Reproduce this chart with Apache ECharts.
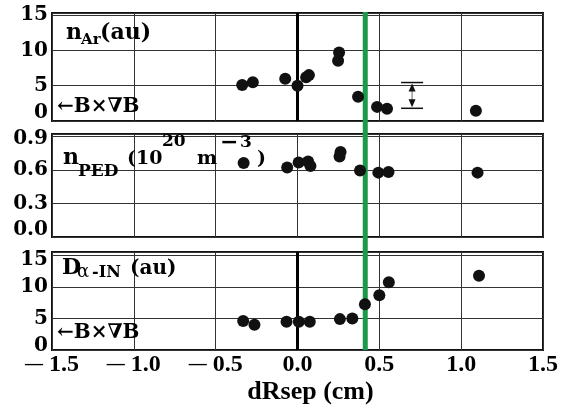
<!DOCTYPE html>
<html><head><meta charset="utf-8">
<script src="https://cdn.jsdelivr.net/npm/echarts@6/dist/echarts.min.js"></script>
<style>html,body{margin:0;padding:0;background:#fff}#c{width:567px;height:409px}</style>
</head><body><div id="c"></div>
<script>
// ---- data ----
const xTicks = [-1.5, -1.0, -0.5, 0.0, 0.5, 1.0, 1.5];
const xTickLabels = ['−1.5', '−1.0', '−0.5', '0.0', '0.5', '1.0', '1.5'];

const nArTicks = [0, 5, 10, 15];
const nArX = [-0.338, -0.273, -0.075, 0.0, 0.053, 0.07, 0.248, 0.254, 0.37, 0.486, 0.547, 1.09];
const nArY = [5.1, 5.5, 6.0, 5.0, 6.2, 6.5, 8.55, 9.7, 3.45, 2.0, 1.75, 1.45];

const nPedTicks = [0.0, 0.3, 0.6, 0.9];
const nPedX = [-0.329, -0.063, 0.007, 0.065, 0.079, 0.263, 0.257, 0.382, 0.494, 0.556, 1.10];
const nPedY = [0.66, 0.62, 0.665, 0.675, 0.635, 0.76, 0.72, 0.595, 0.575, 0.58, 0.575];

const dAlphaTicks = [0, 5, 10, 15];
const dAlphaX = [-0.332, -0.263, -0.067, 0.008, 0.075, 0.259, 0.335, 0.412, 0.5, 0.558, 1.109];
const dAlphaY = [4.6, 4.0, 4.5, 4.5, 4.5, 4.9, 5.0, 7.25, 8.7, 10.75, 11.8];

const separatrixX = [0.414];          // green vertical line
const errBarX = [0.70];               // representative error bar (panel 1)
const errBarLow = [1.8];
const errBarHigh = [5.45];

// ---- styles ----
const SERIF = 'Liberation Serif';
const DJ = 'DejaVu Serif';
const ink = '#111';

function yFmt(ticks, dec) {
  return function (v) {
    const i = ticks.findIndex(t => Math.abs(t - v) < 1e-6);
    if (i < 0) return '';
    const s = ticks[i].toFixed(dec);
    if (i === 0) return '{lo|' + s + '}';
    if (i === ticks.length - 1) return '{hi|' + s + '}';
    return '{n|' + s + '}';
  };
}
function yRich(lo, hi) {
  const base = { fontFamily: DJ, fontWeight: 'bold', fontSize: 20, color: '#000' };
  return {
    n: base,
    lo: Object.assign({}, base, { padding: [0, 0, 2 * lo, 0] }),
    hi: Object.assign({}, base, { padding: [2 * hi, 0, 0, 0] })
  };
}
const splitStyle = { show: true, lineStyle: { color: '#333', width: 1 } };

function xAxisDef(idx, showLabels) {
  return {
    type: 'value', gridIndex: idx, min: -1.5, max: 1.5, interval: 0.5,
    axisLine: { show: false }, axisTick: { show: false },
    splitLine: splitStyle,
    axisLabel: showLabels ? {
      show: true, margin: 3,
      formatter: function (v) {
        const i = xTicks.findIndex(t => Math.abs(t - v) < 1e-6);
        if (i < 0) return '';
        const s = xTickLabels[i];
        if (s.charAt(0) === '−') return '{m|—}{d| ' + s.slice(1) + '}';
        return '{d|' + s + '}';
      },
      rich: {
        m: { fontFamily: SERIF, fontWeight: 'bold', fontSize: 18, color: '#000', padding: [0, 0, 2, 0] },
        d: { fontFamily: SERIF, fontWeight: 'bold', fontSize: 24, color: '#000' }
      }
    } : { show: false },
    name: showLabels ? 'dRsep (cm)' : '',
    nameLocation: 'middle', nameGap: 29,
    nameTextStyle: { fontFamily: SERIF, fontWeight: 'bold', fontSize: 26, color: '#000', padding: [0, 0, 0, 26] }
  };
}
function yAxisDef(idx, min, max, interval, ticks, dec, lo, hi) {
  return {
    type: 'value', gridIndex: idx, min: min, max: max, interval: interval,
    axisLine: { show: false }, axisTick: { show: false },
    splitLine: splitStyle,
    axisLabel: { show: true, margin: 4, formatter: yFmt(ticks, dec), rich: yRich(lo, hi) }
  };
}
const zeroMark = {
  silent: true, symbol: 'none', label: { show: false },
  lineStyle: { color: '#000', width: 3, type: 'solid', opacity: 1 },
  data: [{ xAxis: 0 }]
};
function scatter(idx, xs, ys, withZero) {
  const s = {
    type: 'scatter', xAxisIndex: idx, yAxisIndex: idx, z: 5,
    symbol: 'circle', symbolSize: 12, itemStyle: { color: ink, opacity: 1 },
    data: xs.map((x, i) => [x, ys[i]])
  };
  if (withZero) s.markLine = zeroMark;
  return s;
}
function t(x, yMid, text, size, opts) {
  return {
    type: 'text', x: x, y: yMid, z: 10, silent: true,
    style: Object.assign({
      text: text, fontFamily: DJ, fontWeight: 'bold', fontSize: size,
      fill: '#000', verticalAlign: 'middle', align: 'left'
    }, opts || {})
  };
}

const chart = echarts.init(document.getElementById('c'), null, { renderer: 'canvas' });
const gridBase = { show: true, borderColor: ink, borderWidth: 2, backgroundColor: 'transparent', containLabel: false };
chart.setOption({
  animation: false,
  backgroundColor: '#fff',
  grid: [
    Object.assign({ left: 52, top: 13, width: 491, height: 108 }, gridBase),
    Object.assign({ left: 52, top: 134, width: 491, height: 103 }, gridBase),
    Object.assign({ left: 52, top: 252, width: 491, height: 98 }, gridBase),
    { left: 52, top: 12, width: 491, height: 338, show: false }
  ],
  xAxis: [
    xAxisDef(0, false), xAxisDef(1, false), xAxisDef(2, true),
    { type: 'value', gridIndex: 3, min: -1.5, max: 1.5, show: false }
  ],
  yAxis: [
    yAxisDef(0, 0, 15.3, 5, nArTicks, 0, 8, 0),
    yAxisDef(1, 0, 0.92, 0.3, nPedTicks, 1, 7, 2.5),
    yAxisDef(2, 0, 15.55, 5, dAlphaTicks, 0, 4.5, 4.5),
    { type: 'value', gridIndex: 3, min: 0, max: 1, show: false }
  ],
  series: [
    {
      type: 'line', xAxisIndex: 3, yAxisIndex: 3, z: 3, symbol: 'none', silent: true,
      lineStyle: { color: '#1b9a4a', width: 5 },
      data: [[separatrixX[0], 0], [separatrixX[0], 1]]
    },
    scatter(0, nArX, nArY, true),
    scatter(1, nPedX, nPedY, false),
    scatter(2, dAlphaX, dAlphaY, true),
    {
      type: 'custom', xAxisIndex: 0, yAxisIndex: 0, z: 4, silent: true,
      data: errBarX.map((x, i) => [x, errBarLow[i], errBarHigh[i]]),
      renderItem: function (params, api) {
        const x = api.value(0);
        const pLo = api.coord([x, api.value(1)]);
        const pHi = api.coord([x, api.value(2)]);
        const hw = 11, ah = 8, aw = 3.5;
        return {
          type: 'group', children: [
            { type: 'line', shape: { x1: pHi[0] - hw, y1: pHi[1], x2: pHi[0] + hw, y2: pHi[1] }, style: { stroke: '#111', lineWidth: 1.5 } },
            { type: 'line', shape: { x1: pLo[0] - hw, y1: pLo[1], x2: pLo[0] + hw, y2: pLo[1] }, style: { stroke: '#111', lineWidth: 1.5 } },
            { type: 'line', shape: { x1: pHi[0], y1: pHi[1] + ah, x2: pLo[0], y2: pLo[1] - ah }, style: { stroke: '#666', lineWidth: 1 } },
            { type: 'polygon', shape: { points: [[pHi[0], pHi[1] + 1], [pHi[0] - aw, pHi[1] + ah + 1], [pHi[0] + aw, pHi[1] + ah + 1]] }, style: { fill: '#111' } },
            { type: 'polygon', shape: { points: [[pLo[0], pLo[1] - 1], [pLo[0] - aw, pLo[1] - ah - 1], [pLo[0] + aw, pLo[1] - ah - 1]] }, style: { fill: '#111' } }
          ]
        };
      }
    }
  ],
  graphic: [
    // panel 1 label
    t(66, 33, 'n', 22),
    t(81, 40, 'Ar', 15),
    t(100, 33, '(au)', 22),
    t(57, 107, '←B×∇B', 20),
    // panel 2 label
    t(63, 158, 'n', 22),
    t(78, 172, 'PED', 17),
    t(127, 159, '(10', 19),
    t(162, 142, '20', 17),
    t(197, 159, 'm', 19),
    t(220, 143, '−', 22),
    t(240, 143, '3', 17),
    t(257, 159, ')', 19),
    // panel 3 label
    t(62, 268, 'D', 22),
    t(77, 272, 'α', 18, { fontWeight: 'normal' }),
    t(92, 273, '-IN', 16),
    t(130, 269, '(au)', 20),
    t(57, 333, '←B×∇B', 20)
  ]
});
</script></body></html>
